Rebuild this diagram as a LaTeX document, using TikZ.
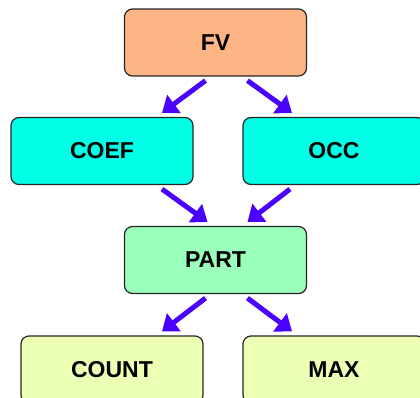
\documentclass[tikz,border=0pt]{standalone}
\usepackage{fontspec}
\setmainfont{Liberation Sans}
\usetikzlibrary{arrows.meta,calc}
\definecolor{fvcol}{HTML}{FDB585}
\definecolor{cyancol}{HTML}{00FFE6}
\definecolor{partcol}{HTML}{99FFBB}
\definecolor{leafcol}{HTML}{EBFFB5}
\definecolor{arrcol}{HTML}{4A00FF}
\tikzset{
  box/.style={draw=black!85, line width=1.2pt, rounded corners=8pt, minimum width=182pt, minimum height=67pt, inner sep=0pt, font=\fontsize{23}{26}\selectfont\bfseries},
  conn/.style={draw=arrcol, line width=5pt, -{Triangle[length=15pt,width=22pt]}}
}
\begin{document}
\begin{tikzpicture}[x=1pt,y=-1pt]
\useasboundingbox (0,0) rectangle (420,397);
\clip (0,0) rectangle (420,397);
\node[box, fill=fvcol] (fv) at (215.5,42.5) {FV};
\node[box, fill=cyancol] (coef) at (102,151) {COEF};
\node[box, fill=cyancol] (occ) at (334,151) {OCC};
\node[box, fill=partcol] (part) at (215.5,260) {PART};
\node[box, fill=leafcol] (count) at (112,369.5) {COUNT};
\node[box, fill=leafcol] (max) at (334,369.5) {MAX};
\draw[conn] ($(fv.south)+(-10,4)$) -- ($(coef.north)+(60,-4)$);
\draw[conn] ($(fv.south)+(32,4)$) -- ($(occ.north)+(-42,-4)$);
\draw[conn] ($(coef.south)+(60,4)$) -- ($(part.north)+(-8,-4)$);
\draw[conn] ($(occ.south)+(-44,4)$) -- ($(part.north)+(32,-4)$);
\draw[conn] ($(part.south)+(-10,4)$) -- ($(count.north)+(50,-4)$);
\draw[conn] ($(part.south)+(32,4)$) -- ($(max.north)+(-42,-4)$);
\end{tikzpicture}
\end{document}
